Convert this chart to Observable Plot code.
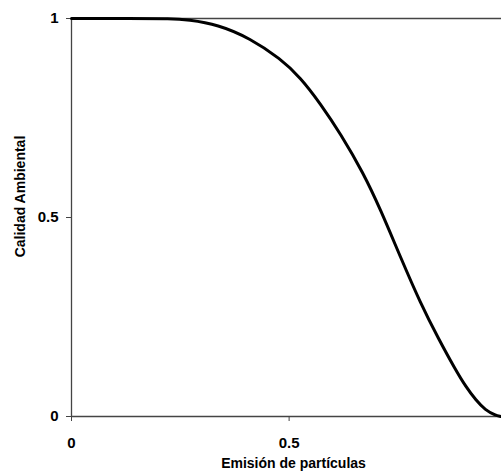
<!DOCTYPE html>
<html><head><meta charset="utf-8">
<script src="https://cdn.jsdelivr.net/npm/d3@7"></script>
<script src="https://cdn.jsdelivr.net/npm/@observablehq/plot@0.6"></script>
<style>body{margin:0;background:#fff}</style>
</head><body><div id="chart"></div>
<script>
const emision = [0, 0.136, 0.230, 0.267, 0.336, 0.411, 0.480, 0.526, 0.572, 0.618, 0.671, 0.710, 0.756, 0.802, 0.843, 0.883, 0.906, 0.929, 0.951, 0.974, 0.986];
const calidad = [1, 1, 1, 0.997, 0.985, 0.950, 0.899, 0.852, 0.786, 0.711, 0.611, 0.520, 0.400, 0.284, 0.196, 0.116, 0.075, 0.041, 0.016, 0.003, 0];
const xTicks = [0, 0.5];
const yTicks = [0, 0.5, 1];
const xTitle = "Emisión de partículas";
const yTitle = "Calidad Ambiental";

const data = emision.map((x, i) => ({x, y: calidad[i]}));
const axisColor = "#444";
const font = "'Liberation Sans', Arial, sans-serif";

const chart = Plot.plot({
  width: 501, height: 475,
  marginLeft: 71, marginRight: 0, marginTop: 18, marginBottom: 59,
  style: {fontFamily: font, fontWeight: "bold", fontSize: "15px", color: "#000", background: "#fff"},
  x: {domain: [0, 0.988]},
  y: {domain: [0, 1]},
  marks: [
    Plot.ruleY([1], {stroke: axisColor, strokeWidth: 1.3}),
    Plot.ruleY([0], {stroke: axisColor, strokeWidth: 1.3}),
    Plot.ruleX([0], {stroke: axisColor, strokeWidth: 1.3}),
    Plot.axisX({ticks: xTicks, tickFormat: d => String(d), tickSize: 5, tickPadding: 16, stroke: axisColor, label: null, fontWeight: "bold", fontSize: 15}),
    Plot.axisY({ticks: yTicks, tickFormat: d => String(d), tickSize: 5, tickPadding: 8, stroke: axisColor, label: null, fontWeight: "bold", fontSize: 15}),
    Plot.line(data, {x: "x", y: "y", curve: "basis", stroke: "#000", strokeWidth: 3}),
    Plot.text([xTitle], {frameAnchor: "bottom", lineAnchor: "middle", textAnchor: "middle", dx: 7, dy: 47, fontSize: 14, fontWeight: "bold", fill: "#000"}),
    Plot.text([yTitle], {frameAnchor: "left", lineAnchor: "middle", textAnchor: "middle", rotate: -90, dx: -51, dy: -21, fontSize: 14, fontWeight: "bold", fill: "#000"})
  ]
});
document.getElementById("chart").appendChild(chart);
</script>
</body></html>
